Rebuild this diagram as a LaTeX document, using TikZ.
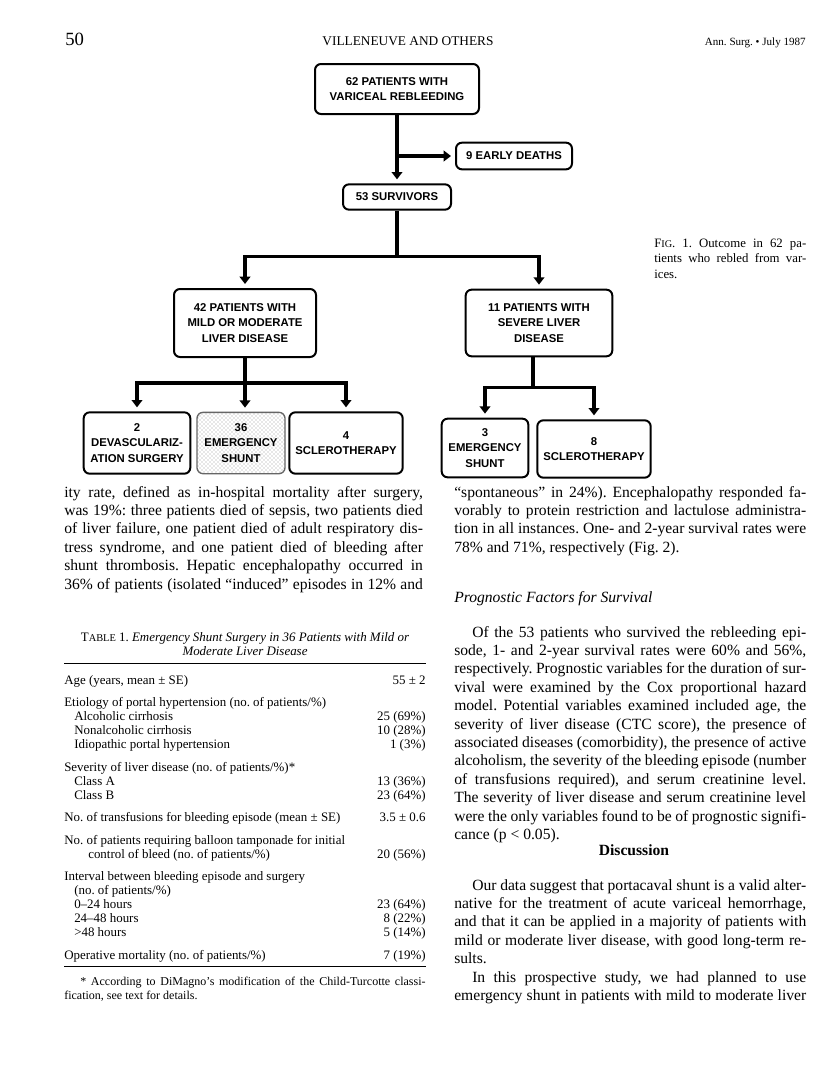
\documentclass[tikz,border=0pt]{standalone}
\usepackage{fontspec}
\setmainfont{Liberation Serif}
\newfontfamily\chartfont{Liberation Sans}
\usetikzlibrary{arrows.meta,positioning,patterns}
\newcommand{\bodyfont}{\fontsize{11.7}{13.8}\selectfont}
\newcommand{\tabfont}{\fontsize{9.7}{10.5}\selectfont}
\newcommand{\notefont}{\fontsize{9}{10.5}\selectfont}
\newcommand{\capfont}{\fontsize{9.6}{11.6}\selectfont}
\newcommand{\boxfont}{\chartfont\bfseries\fontsize{8.5}{11.5}\selectfont}
\tolerance=10000
\hyphenpenalty=10000
\exhyphenpenalty=10000
\frenchspacing

\begin{document}
\begin{tikzpicture}[x=0.75pt,y=-0.75pt]
\tikzset{box/.style={draw, line width=1.5pt, rounded corners=4.5pt, align=center, font=\boxfont, inner sep=1pt},
  stipple/.style={pattern=crosshatch dots, pattern color=black!40, draw=black!60, line width=1pt},
  flow/.style={line width=2.6pt, -{Triangle[length=5.5pt,width=8pt]}, shorten >=3pt},
  link/.style={line width=2.6pt},
  col/.style={anchor=north west, inner sep=0pt, text width=#1, align=justify, font=\bodyfont},
  tabrule/.style={line width=1pt}}
\path[fill=white] (0,0) rectangle (816,1092);
\useasboundingbox (0,0) rectangle (816,1092);

% running head
\node[anchor=base west, inner sep=0pt, font=\fontsize{14}{14}\selectfont] (pageno) at (65,45) {50};
\node[anchor=base, inner sep=0pt, font=\fontsize{10}{12}\selectfont] (runhead) at (408,45) {VILLENEUVE AND OTHERS};
\node[anchor=base east, inner sep=0pt, font=\fontsize{8.3}{9}\selectfont] (journal) at (806,45) {Ann. Surg. • July 1987};

% flow chart
\node[box, minimum width=123pt, minimum height=37.5pt] (rebleed) at (397,89) {62 PATIENTS WITH\\VARICEAL REBLEEDING};
\node[box, minimum width=87pt, minimum height=20pt] (deaths) at (514,156) {9 EARLY DEATHS};
\node[box, minimum width=81pt, minimum height=19pt] (surv) at (397,197) {53 SURVIVORS};
\node[box, minimum width=106.5pt, minimum height=51pt] (mild) at (245,323) {42 PATIENTS WITH\\MILD OR MODERATE\\LIVER DISEASE};
\node[box, minimum width=110pt, minimum height=50pt] (severe) at (539,323) {11 PATIENTS WITH\\SEVERE LIVER\\DISEASE};
\node[box, minimum width=80pt, minimum height=46pt] (devasc) at (137,443) {2\\DEVASCULARIZ-\\ATION SURGERY};
\node[box, stipple, minimum width=66pt, minimum height=46pt] (shuntA) at (241,443) {36\\EMERGENCY\\SHUNT};
\node[box, minimum width=85pt, minimum height=46pt] (scleroA) at (346,443) {4\\SCLEROTHERAPY};
\node[box, minimum width=65pt, minimum height=44pt] (shuntB) at (485,448) {3\\EMERGENCY\\SHUNT};
\node[box, minimum width=85pt, minimum height=43pt] (scleroB) at (594,449) {8\\SCLEROTHERAPY};

\draw[flow] (rebleed.south) -- (surv.north);
\draw[flow] (rebleed.south |- deaths) -- (deaths.west);
\draw[link] (surv.south) -- ++(0,46) coordinate (split);
\draw[flow] (split) -| (mild.north);
\draw[flow] (split) -| (severe.north);
\draw[link] (mild.south) -- ++(0,25) coordinate (splitA);
\draw[flow] (splitA) -| (devasc.north);
\draw[flow] (mild.south) -- (mild.south |- shuntA.north);
\draw[flow] (splitA) -| (scleroA.north);
\draw[link] ([xshift=-4.5pt]severe.south) -- ++(0,30) coordinate (splitB);
\draw[flow] (splitB) -| (shuntB.north);
\draw[flow] (splitB) -| (scleroB.north);

\node[col=114pt, font=\capfont] (caption) at (654,236) {\strut F{\fontsize{7.7}{11.6}\selectfont IG}. 1. Outcome in 62 pa-\linebreak tients who rebled from var-\linebreak ices.};

% left column
\node[col=269pt] (textA) at (64,484) {\strut ity rate, defined as in-hospital mortality after surgery,\linebreak was 19\%: three patients died of sepsis, two patients died\linebreak of liver failure, one patient died of adult respiratory dis-\linebreak tress syndrome, and one patient died of bleeding after\linebreak shunt thrombosis. Hepatic encephalopathy occurred in\linebreak 36\% of patients (isolated “induced” episodes in 12\% and\parfillskip=0pt\par};

\node[anchor=north, inner sep=0pt, align=center, font=\tabfont\itshape] (tabtitle) at (245,631) {\strut{\upshape T{\fontsize{7.8}{10.5}\selectfont ABLE} 1.} Emergency Shunt Surgery in 36 Patients with Mild or\\Moderate Liver Disease};
\node[anchor=north west, inner sep=0pt, font=\tabfont] (tab) at (64,674) {%
\begin{tabular*}{271pt}{@{}l@{\extracolsep{\fill}}r@{}}
Age (years, mean ± SE) & 55 ± 2\\[6.4pt]
Etiology of portal hypertension (no. of patients/\%) & \\
\hspace*{7.5pt}Alcoholic cirrhosis & 25 (69\%)\\
\hspace*{7.5pt}Nonalcoholic cirrhosis & 10 (28\%)\\
\hspace*{7.5pt}Idiopathic portal hypertension & 1 (3\%)\\[6.4pt]
Severity of liver disease (no. of patients/\%)* & \\
\hspace*{7.5pt}Class A & 13 (36\%)\\
\hspace*{7.5pt}Class B & 23 (64\%)\\[6.4pt]
No. of transfusions for bleeding episode (mean ± SE) & 3.5 ± 0.6\\[6.4pt]
No. of patients requiring balloon tamponade for initial & \\
\hspace*{18pt}control of bleed (no. of patients/\%) & 20 (56\%)\\[6.4pt]
Interval between bleeding episode and surgery & \\
\hspace*{7.5pt}(no. of patients/\%) & \\
\hspace*{7.5pt}0–24 hours & 23 (64\%)\\
\hspace*{7.5pt}24–48 hours & 8 (22\%)\\
\hspace*{7.5pt}>48 hours & 5 (14\%)\\[6.4pt]
Operative mortality (no. of patients/\%) & 7 (19\%)
\end{tabular*}};
\draw[tabrule] ([yshift=8pt]tab.north west) -- ([yshift=8pt]tab.north east);
\draw[tabrule] ([yshift=-2pt]tab.south west) -- ([yshift=-2pt]tab.south east);
\node[col=271pt, font=\notefont] (tabnote) at (64,975) {\strut\hspace*{12pt}* According to DiMagno’s modification of the Child-Turcotte classi-\linebreak fication, see text for details.};

% right column
\node[col=264pt] (textB) at (454,484) {\strut “spontaneous” in 24\%). Encephalopathy responded fa-\linebreak vorably to protein restriction and lactulose administra-\linebreak tion in all instances. One- and 2-year survival rates were\linebreak 78\% and 71\%, respectively (Fig.~2).};
\node[anchor=base west, inner sep=0pt, font=\bodyfont\itshape] (proghead) at (454,602) {Prognostic Factors for Survival};
\node[col=264pt] (textC) at (454,624) {\strut\hspace*{13.5pt}Of the 53 patients who survived the rebleeding epi-\linebreak sode, 1- and 2-year survival rates were 60\% and 56\%,\linebreak respectively. Prognostic variables for the duration of sur-\linebreak vival were examined by the Cox proportional hazard\linebreak model. Potential variables examined included age, the\linebreak severity of liver disease (CTC score), the presence of\linebreak associated diseases (comorbidity), the presence of active\linebreak alcoholism, the severity of the bleeding episode (number\linebreak of transfusions required), and serum creatinine level.\linebreak The severity of liver disease and serum creatinine level\linebreak were the only variables found to be of prognostic signifi-\linebreak cance (p < 0.05).};
\node[anchor=base, inner sep=0pt, font=\bodyfont\bfseries] (dischead) at (634,855) {Discussion};
\node[col=264pt] (textD) at (454,877) {\strut\hspace*{13.5pt}Our data suggest that portacaval shunt is a valid alter-\linebreak native for the treatment of acute variceal hemorrhage,\linebreak and that it can be applied in a majority of patients with\linebreak mild or moderate liver disease, with good long-term re-\linebreak sults.\par
\hspace*{13.5pt}In this prospective study, we had planned to use\linebreak emergency shunt in patients with mild to moderate liver\parfillskip=0pt\par};
\end{tikzpicture}
\end{document}
